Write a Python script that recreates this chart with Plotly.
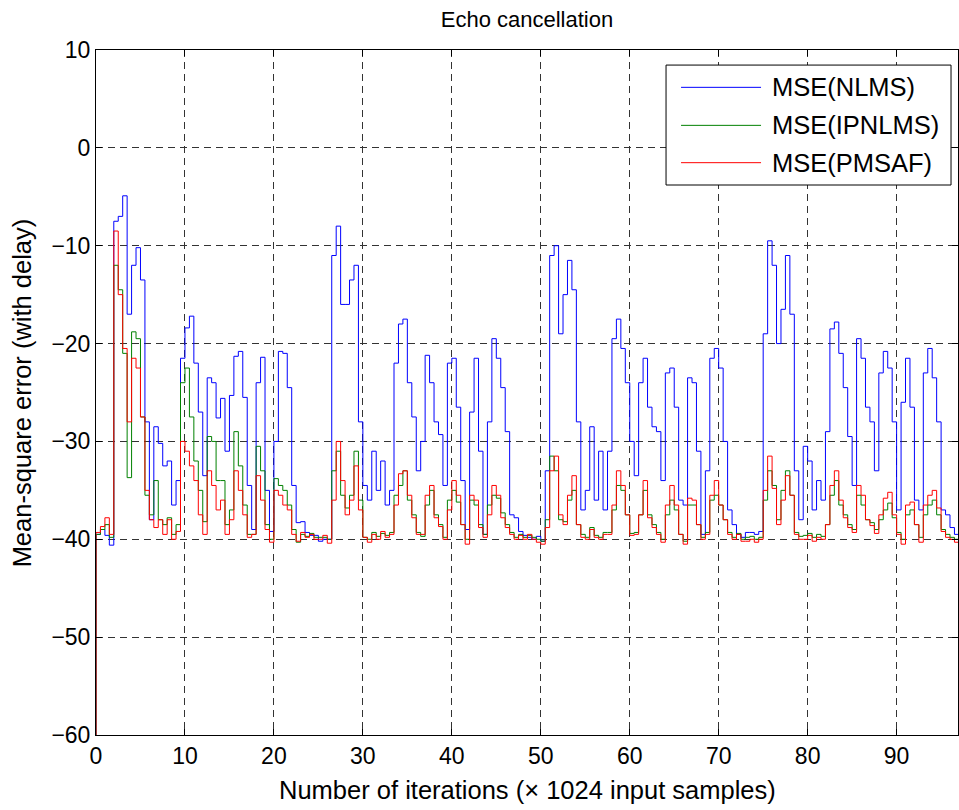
import numpy as np
import plotly.graph_objects as go

# MSE curves (dB), one value every 0.5 x 1024 input samples, from 0 to 97
mse_nlms = [
    -39.5, -39.0, -39.6, -40.6, -7.5, -7.0, -4.9, -17.0, -12.0, -10.2,
    -13.5, -28.0, -38.0, -28.5, -30.2, -32.5, -32.0, -36.5, -34.0, -21.5,
    -18.4, -17.2, -22.0, -27.0, -33.5, -23.5, -24.0, -27.6, -25.6, -31.0,
    -25.3, -21.3, -20.8, -25.5, -34.5, -39.0, -24.0, -21.4, -35.0, -39.2,
    -30.0, -20.8, -21.0, -24.5, -34.5, -38.3, -38.2, -39.3, -39.6, -39.6,
    -40.2, -40.0, -40.0, -11.0, -8.0, -16.0, -16.0, -13.5, -12.0, -28.0,
    -34.5, -36.0, -31.0, -35.0, -32.0, -36.5, -35.0, -22.0, -18.0, -17.5,
    -24.0, -27.5, -33.0, -30.0, -21.2, -24.0, -28.0, -29.3, -34.5, -22.0,
    -21.5, -26.5, -34.0, -39.0, -27.0, -21.5, -31.0, -39.5, -28.0, -19.5,
    -21.5, -24.5, -29.0, -37.5, -37.8, -39.2, -39.6, -39.8,
    -40.0, -39.7, -40.2, -33.0, -11.0, -10.0, -19.0, -15.0, -11.5, -14.5,
    -28.0, -37.0, -35.0, -28.5, -36.0, -31.0, -37.0, -31.0, -19.5, -17.5,
    -20.5, -24.0, -30.0, -33.5, -24.0, -21.5, -26.5, -28.5, -29.0, -34.0,
    -23.0, -22.5, -26.5, -36.0, -36.5, -23.5, -24.0, -31.0, -39.5, -33.0,
    -21.5, -20.5, -22.5, -30.0, -37.0, -38.5, -39.5, -39.8,
    -39.3, -39.3, -39.5, -39.2, -19.0, -9.5, -12.0, -20.0, -16.5, -11.0,
    -17.0, -33.0, -38.0, -30.5, -32.0, -37.0, -34.0, -36.0, -29.0, -18.5,
    -17.8, -21.0, -24.5, -29.5, -34.5, -19.5, -21.5, -26.5, -28.0, -33.0,
    -23.0, -20.8, -22.5, -28.0, -37.0, -26.0, -21.5, -26.5, -36.0, -37.0,
    -23.0, -20.5, -23.5, -28.0, -37.0, -37.5, -38.8, -39.5, -39.8,
]

mse_ipnlms = [
    -39.5, -39.0, -38.5, -39.8, -12.0, -14.5, -21.0, -33.7, -18.8, -19.5,
    -27.5, -35.5, -37.5, -34.0, -38.0, -38.5, -37.8, -39.5, -38.5, -24.0,
    -22.5, -27.5, -32.0, -35.0, -38.2, -29.5, -30.0, -34.0, -34.0, -38.5,
    -37.0, -29.0, -32.5, -36.5, -39.5, -39.5, -30.5, -33.0, -38.5, -40.0,
    -33.8, -34.5, -35.0, -36.5, -39.0, -40.3, -39.5, -39.7, -39.4, -39.8,
    -39.8, -39.8, -40.0, -33.0, -31.0, -35.5, -36.8, -35.5, -31.0, -36.0,
    -39.8, -40.0, -39.3, -39.7, -39.4, -39.6, -39.3, -35.5, -34.5, -33.0,
    -36.0, -37.5, -39.3, -39.7, -36.5, -35.0, -37.5, -38.5, -39.8, -36.0,
    -35.0, -36.2, -38.5, -40.0, -36.0, -36.5, -38.5, -39.5, -36.5, -35.5,
    -35.8, -37.3, -38.5, -39.3, -39.8, -39.5, -39.8, -39.6,
    -39.8, -40.0, -40.2, -38.0, -31.5, -33.0, -38.0, -38.2, -36.0, -35.0,
    -38.5, -39.5, -39.8, -38.8, -39.6, -39.8, -39.3, -39.3, -37.0, -34.5,
    -35.0, -37.5, -39.4, -39.3, -37.5, -35.0, -37.5, -38.5, -39.3, -40.0,
    -37.5, -36.0, -37.0, -39.5, -40.2, -36.5, -36.5, -38.5, -39.8, -39.3,
    -36.0, -35.5, -36.5, -38.0, -39.3, -39.8, -39.4, -40.0,
    -39.8, -39.7, -40.0, -39.8, -36.0, -33.0, -34.5, -38.0, -35.0, -33.0,
    -35.5, -39.3, -39.7, -39.6, -39.4, -39.8, -39.5, -39.7, -38.5, -35.5,
    -34.0, -36.5, -37.5, -38.5, -39.0, -35.5, -36.5, -38.0, -38.3, -39.0,
    -38.0, -37.0, -36.3, -37.8, -39.3, -40.0, -37.5, -37.0, -38.5, -39.8,
    -37.5, -36.5, -36.0, -37.5, -39.0, -39.5, -39.8, -40.0, -40.0,
]

mse_pmsaf = [
    -39.3, -38.7, -37.8, -39.5, -8.5, -15.0, -20.5, -28.0, -21.5, -22.5,
    -27.5, -35.0, -38.0, -38.8, -38.0, -39.5, -38.0, -40.0, -39.2, -30.0,
    -31.0, -32.5, -34.0, -37.5, -39.5, -33.0, -34.5, -37.0, -36.0, -39.5,
    -38.0, -33.0, -35.0, -37.5, -39.8, -39.5, -33.5, -36.0, -39.0, -40.3,
    -35.0, -35.5, -36.5, -37.0, -39.5, -40.2, -39.3, -39.8, -39.5, -40.0,
    -40.0, -39.6, -40.4, -36.0, -30.0, -34.0, -37.5, -36.0, -32.5, -37.0,
    -39.8, -40.3, -39.5, -40.0, -39.2, -39.8, -39.5, -36.5, -33.3, -33.0,
    -35.5, -37.8, -39.5, -39.5, -35.5, -34.5, -37.8, -38.7, -40.0, -37.0,
    -34.0, -35.5, -38.5, -40.5, -35.5, -36.0, -38.8, -39.8, -37.5, -34.5,
    -35.5, -37.8, -38.8, -39.5, -40.0, -39.6, -40.0, -39.5,
    -40.0, -40.3, -40.5, -38.8, -33.0, -31.5, -37.5, -38.5, -35.5, -33.5,
    -38.5, -39.8, -40.0, -39.0, -39.8, -40.0, -39.5, -39.5, -36.5, -33.0,
    -34.5, -37.5, -39.6, -39.5, -37.5, -34.0, -37.8, -38.8, -39.5, -40.3,
    -36.5, -34.5, -36.5, -39.5, -40.5, -35.8, -36.0, -38.5, -40.0, -39.5,
    -35.5, -34.0, -36.5, -38.0, -39.5, -40.0, -39.5, -40.2,
    -40.2, -40.0, -40.3, -40.0, -35.0, -31.5, -34.8, -38.5, -36.0, -33.5,
    -35.5, -39.5, -40.0, -40.0, -39.6, -40.2, -39.8, -40.0, -38.5, -34.5,
    -33.0, -36.0, -37.8, -38.8, -39.3, -34.5, -35.5, -38.0, -38.6, -39.4,
    -37.5, -35.8, -35.2, -37.5, -39.5, -40.5, -36.5, -36.2, -38.5, -40.3,
    -36.5, -35.5, -35.0, -36.8, -39.2, -39.8, -40.0, -40.3, -40.4,
]

series_names = ["MSE(NLMS)", "MSE(IPNLMS)", "MSE(PMSAF)"]
series_colors = ["#0000ff", "#008000", "#ff0000"]
start_level = -60.0          # initial MSE before adaptation starts
block_step = 0.5             # x units (x 1024 samples) per MSE value

x_ticks = [0, 10, 20, 30, 40, 50, 60, 70, 80, 90]
y_ticks = [-60, -50, -40, -30, -20, -10, 0, 10]

fig = go.Figure()
for name, color, vals in zip(series_names, series_colors,
                             [mse_nlms, mse_ipnlms, mse_pmsaf]):
    x = np.concatenate([[0.0], np.arange(len(vals)) * block_step])
    y = np.concatenate([[start_level], vals])
    fig.add_trace(go.Scatter(
        x=x, y=y, mode="lines", name=name, showlegend=False,
        line=dict(color=color, width=1, shape="hv"),
    ))

font_family = "Liberation Sans, Arial, sans-serif"
axis_common = dict(
    showline=True, linecolor="black", linewidth=1, mirror="ticks",
    ticks="inside", ticklen=6, tickcolor="black",
    showgrid=True, gridcolor="#333333", gridwidth=1, griddash="7px,5px",
    zeroline=False,
    tickfont=dict(family=font_family, size=23, color="black"),
)

fig.update_layout(
    width=959, height=810,
    margin=dict(l=96, r=1, t=50, b=75),
    paper_bgcolor="white", plot_bgcolor="white",
    title=dict(text="Echo cancellation", xref="paper", x=0.5,
               xanchor="center", y=1 - 19 / 810, yanchor="middle",
               font=dict(family=font_family, size=22, color="black")),
    xaxis=dict(range=[0, 96.9], tickvals=x_ticks, **axis_common),
    yaxis=dict(range=[-60, 10], tickvals=y_ticks, **axis_common),
)

# axis titles
fig.add_annotation(text="Number of iterations (\u00d7 1024 input samples)",
                   xref="paper", yref="paper", x=0.5, y=-0.0803,
                   xanchor="center", yanchor="middle", showarrow=False,
                   font=dict(family=font_family, size=25.5, color="black"))
fig.add_annotation(text="Mean-square error (with delay)",
                   xref="paper", yref="paper", x=-0.086, y=0.5,
                   xanchor="center", yanchor="middle", showarrow=False,
                   textangle=-90,
                   font=dict(family=font_family, size=25.5, color="black"))

# legend box drawn in the upper right corner
fig.add_shape(type="rect", xref="paper", yref="paper",
              x0=0.6613, x1=0.9919, y0=0.8029, y1=0.978,
              line=dict(color="black", width=1), fillcolor="white",
              layer="above")
row_y = [0.9455, 0.890, 0.8355]
for name, color, ry in zip(series_names, series_colors, row_y):
    fig.add_shape(type="line", xref="paper", yref="paper",
                  x0=0.6787, x1=0.7715, y0=ry, y1=ry,
                  line=dict(color=color, width=1), layer="above")
    fig.add_annotation(text=name, xref="paper", yref="paper",
                       x=0.7819, y=ry, xanchor="left", yanchor="middle",
                       showarrow=False,
                       font=dict(family=font_family, size=25.5, color="black"))

fig.write_html("out.html")
